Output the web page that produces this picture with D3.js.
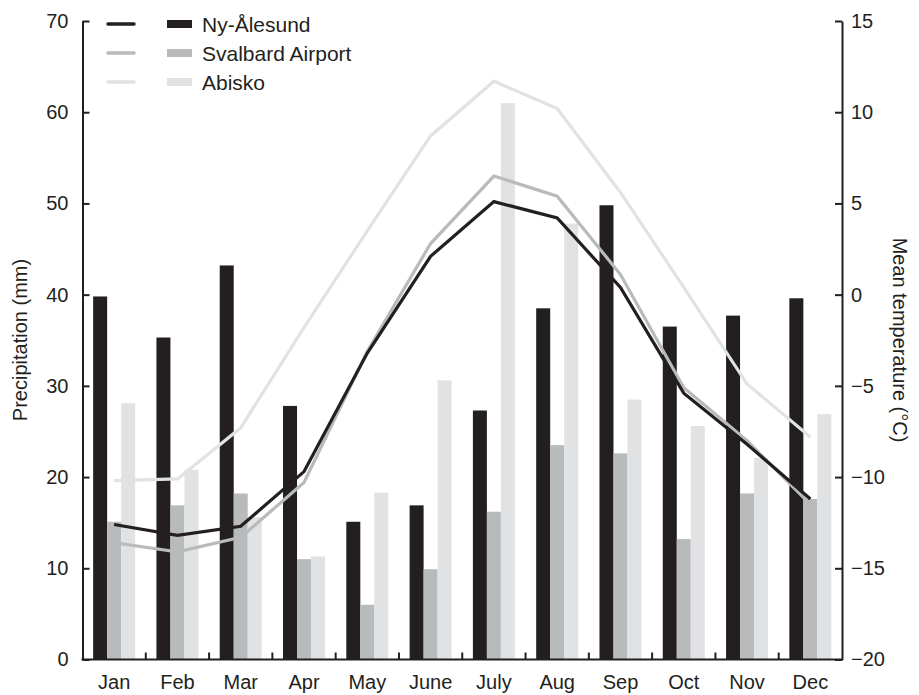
<!DOCTYPE html>
<html>
<head>
<meta charset="utf-8">
<script src="https://cdn.jsdelivr.net/npm/d3@7"></script>
<style>
  html, body { margin: 0; padding: 0; background: #fff; }
  svg { display: block; }
  text { font-family: "Liberation Sans", Arial, Helvetica, sans-serif; fill: #231f20; }
</style>
</head>
<body>
<svg id="chart" width="919" height="695"></svg>
<script>
// Monthly climate normals for three Arctic stations
const months = ["Jan", "Feb", "Mar", "Apr", "May", "June", "July", "Aug", "Sep", "Oct", "Nov", "Dec"];
const stations = ["Ny-Ålesund", "Svalbard Airport", "Abisko"];

// Precipitation (mm)
const precipNyAlesund = [39.8, 35.3, 43.2, 27.8, 15.1, 16.9, 27.3, 38.5, 49.8, 36.5, 37.7, 39.6];
const precipSvalbard  = [15.1, 16.9, 18.2, 11.0, 6.0, 9.9, 16.2, 23.5, 22.6, 13.2, 18.2, 17.6];
const precipAbisko    = [28.1, 20.8, 15.6, 11.3, 18.3, 30.6, 61.0, 47.8, 28.5, 25.6, 22.1, 26.9];

// Mean temperature (°C)
const tempNyAlesund = [-12.6, -13.2, -12.7, -9.7, -3.2, 2.1, 5.1, 4.2, 0.4, -5.4, -8.2, -11.2];
const tempSvalbard  = [-13.6, -14.1, -13.3, -10.3, -3.1, 2.8, 6.5, 5.4, 1.1, -5.1, -8.0, -11.5];
const tempAbisko    = [-10.2, -10.1, -7.3, -1.8, 3.5, 8.7, 11.7, 10.2, 5.6, 0.4, -4.9, -7.8];

// Axis ticks
const precipTicks = [0, 10, 20, 30, 40, 50, 60, 70];
const tempTicks = [-20, -15, -10, -5, 0, 5, 10, 15];

const colors = ["#231f20", "#b9babb", "#e1e2e3"];

const precip = [precipNyAlesund, precipSvalbard, precipAbisko];
const temps = [tempNyAlesund, tempSvalbard, tempAbisko];

const svg = d3.select("#chart");
const margin = { left: 82.5, right: 842, top: 21, bottom: 659.5 };

const x = d3.scaleBand().domain(months).range([margin.left, margin.right]);
const xs = d3.scaleBand().domain(d3.range(3)).range([0, 42]);
const yP = d3.scaleLinear().domain([0, 70]).range([margin.bottom, margin.top]);
const yT = d3.scaleLinear().domain([-20, 15]).range([margin.bottom, margin.top]);

const barOffset = (x.bandwidth() - 42) / 2;

// Bars
const groups = svg.append("g").selectAll("g")
  .data(months).join("g")
  .attr("transform", m => `translate(${x(m) + barOffset},0)`);

groups.selectAll("rect")
  .data((m, i) => precip.map((s, k) => ({ k, v: s[i] })))
  .join("rect")
  .attr("x", d => xs(d.k))
  .attr("width", xs.bandwidth())
  .attr("y", d => yP(d.v))
  .attr("height", d => yP(0) - yP(d.v))
  .attr("fill", d => colors[d.k]);

// Temperature lines
const line = d3.line()
  .x((d, i) => x(months[i]) + x.bandwidth() / 2)
  .y(d => yT(d));

[2, 1, 0].forEach(k => {
  svg.append("path")
    .datum(temps[k])
    .attr("d", line)
    .attr("fill", "none")
    .attr("stroke", colors[k])
    .attr("stroke-width", 3.2)
    .attr("stroke-linejoin", "miter");
});

// Axes
const axisColor = "#231f20";
const fontSize = 20;
function styleAxis(g) {
  g.selectAll("path.domain").attr("stroke", axisColor).attr("stroke-width", 2);
  g.selectAll(".tick line").attr("stroke", axisColor).attr("stroke-width", 2);
  g.selectAll(".tick text").attr("font-size", fontSize).attr("fill", axisColor)
    .style("font-family", '"Liberation Sans", Arial, sans-serif');
}

const leftAxis = svg.append("g")
  .attr("transform", `translate(${margin.left},0)`)
  .call(d3.axisLeft(yP).tickValues(precipTicks).tickSize(-7).tickPadding(14).tickSizeOuter(0));
styleAxis(leftAxis);

const rightAxis = svg.append("g")
  .attr("transform", `translate(${margin.right},0)`)
  .call(d3.axisRight(yT).tickValues(tempTicks).tickSize(-7).tickPadding(9).tickSizeOuter(0)
    .tickFormat(d => d < 0 ? "\u2212" + Math.abs(d) : d));
styleAxis(rightAxis);

// Bottom axis: ticks at month boundaries, labels at month centres
const bottom = svg.append("g").attr("transform", `translate(0,${margin.bottom})`);
bottom.append("line")
  .attr("x1", margin.left - 1).attr("x2", margin.right + 1)
  .attr("stroke", axisColor).attr("stroke-width", 2);
bottom.selectAll("line.tick")
  .data(months.slice(1)).join("line")
  .attr("class", "tick")
  .attr("x1", m => x(m)).attr("x2", m => x(m))
  .attr("y1", 0).attr("y2", -7)
  .attr("stroke", axisColor).attr("stroke-width", 2);
bottom.selectAll("text")
  .data(months).join("text")
  .attr("x", m => x(m) + x.bandwidth() / 2)
  .attr("y", 29)
  .attr("text-anchor", "middle")
  .attr("font-size", fontSize)
  .text(m => m);

// Axis titles
svg.append("text")
  .attr("transform", `translate(27,340) rotate(-90)`)
  .attr("text-anchor", "middle")
  .attr("font-size", fontSize)
  .text("Precipitation (mm)");

svg.append("text")
  .attr("transform", `translate(893,340) rotate(90)`)
  .attr("text-anchor", "middle")
  .attr("font-size", fontSize)
  .text("Mean temperature (°C)");

// Legend
const legend = svg.append("g");
stations.forEach((name, k) => {
  const yy = 24 + k * 29;
  legend.append("line")
    .attr("x1", 108).attr("x2", 134).attr("y1", yy).attr("y2", yy)
    .attr("stroke", colors[k]).attr("stroke-width", 3.5).attr("stroke-linecap", "round");
  legend.append("rect")
    .attr("x", 167).attr("y", yy - 4).attr("width", 25).attr("height", 8)
    .attr("fill", colors[k]);
  legend.append("text")
    .attr("x", 202).attr("y", yy + 8)
    .attr("font-size", 21)
    .text(name);
});
</script>
</body>
</html>
